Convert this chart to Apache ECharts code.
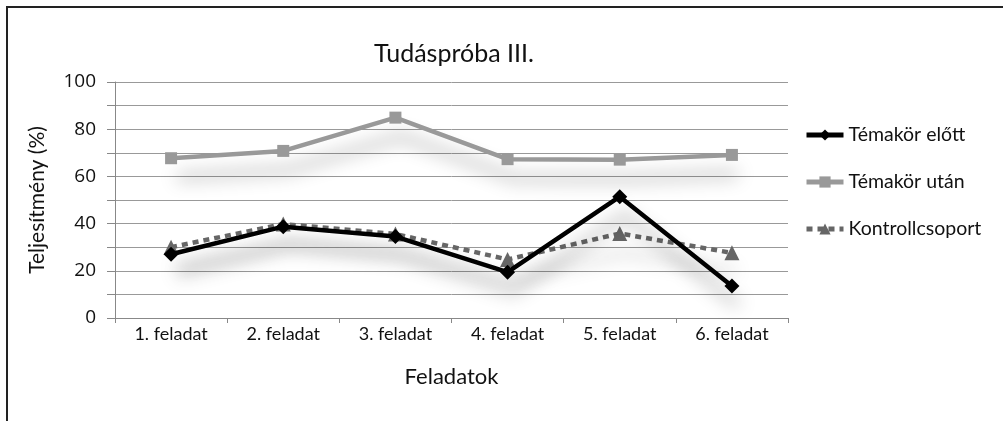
<!DOCTYPE html>
<html>
<head>
<meta charset="utf-8">
<script src="https://cdn.jsdelivr.net/npm/echarts@6/dist/echarts.min.js"></script>
<style>
  html, body { margin: 0; padding: 0; background: #fff; }
  #frame { position: absolute; left: 6px; top: 6px; width: 997px; height: 415px;
           border-top: 2px solid #222; border-left: 2px solid #222; box-sizing: border-box; }
  #chart { position: absolute; left: 0; top: 0; width: 1003px; height: 421px; }
</style>
</head>
<body>
<div id="frame"></div>
<div id="chart"></div>
<script>
  // adatok
  const categories = ['1. feladat', '2. feladat', '3. feladat', '4. feladat', '5. feladat', '6. feladat'];
  const elotte = [27, 38.7, 34.5, 19.4, 51.4, 13.6];
  const utana = [67.7, 70.8, 84.9, 67.3, 67.1, 69.1];
  const kontroll = [30, 39.8, 35.6, 24.8, 35.8, 27.6];

  const font = 'Lato, "Open Sans", sans-serif';
  const shadow = { shadowColor: 'rgba(0,0,0,0.42)', shadowBlur: 18, shadowOffsetX: 6, shadowOffsetY: 19 };

  let myChart = echarts.init(document.getElementById('chart'));
  let option = {
    animation: false,
    title: {
      text: 'Tudáspróba III.',
      left: 449, top: 36, textAlign: 'center',
      textStyle: { fontFamily: font, fontSize: 25, fontWeight: 'normal', color: '#111' }
    },
    legend: {
      orient: 'vertical',
      left: 799, top: 120,
      itemWidth: 37, itemHeight: 14, itemGap: 27,
      lineStyle: { width: 5, shadowBlur: 0, shadowOffsetX: 0, shadowOffsetY: 0 },
      textStyle: { fontFamily: font, fontSize: 19.5, color: '#111' },
      data: ['Témakör előtt', 'Témakör után', 'Kontrollcsoport']
    },
    grid: { left: 115, right: 215, top: 82, bottom: 103 },
    xAxis: {
      type: 'category',
      data: categories,
      name: 'Feladatok',
      nameLocation: 'middle',
      nameGap: 48,
      nameTextStyle: { fontFamily: font, fontSize: 22, color: '#111' },
      axisLine: { lineStyle: { color: '#888', width: 1 } },
      axisTick: { show: true, length: 5, lineStyle: { color: '#888' } },
      axisLabel: { fontFamily: font, fontSize: 18, color: '#111', margin: 7 }
    },
    yAxis: {
      type: 'value',
      min: 0, max: 100, interval: 10,
      name: 'Teljesítmény (%)',
      nameLocation: 'middle',
      nameGap: 67,
      nameTextStyle: { fontFamily: font, fontSize: 21, color: '#111' },
      axisLine: { show: true, lineStyle: { color: '#888', width: 1 } },
      axisTick: { show: true, length: 8, lineStyle: { color: '#888' } },
      splitLine: { lineStyle: { color: '#999', width: 1 } },
      axisLabel: {
        fontFamily: '"Open Sans", sans-serif', fontSize: 19, color: '#111', margin: 19,
        formatter: v => (v % 20 === 0 ? String(v) : '')
      }
    },
    series: [
      {
        name: 'Témakör előtt', type: 'line', data: elotte,
        symbol: 'diamond', symbolSize: 15, z: 4,
        itemStyle: { color: '#000' },
        lineStyle: Object.assign({ color: '#000', width: 4.5 }, shadow)
      },
      {
        name: 'Témakör után', type: 'line', data: utana,
        symbol: 'rect', symbolSize: 12, z: 3,
        itemStyle: { color: '#999' },
        lineStyle: Object.assign({ color: '#999', width: 4.5 }, shadow)
      },
      {
        name: 'Kontrollcsoport', type: 'line', data: kontroll,
        symbol: 'triangle', symbolSize: 15, z: 2,
        itemStyle: { color: '#666' },
        lineStyle: Object.assign({ color: '#666', width: 4.5, type: [6, 5] }, shadow)
      }
    ]
  };
  myChart.setOption(option);
</script>
</body>
</html>
